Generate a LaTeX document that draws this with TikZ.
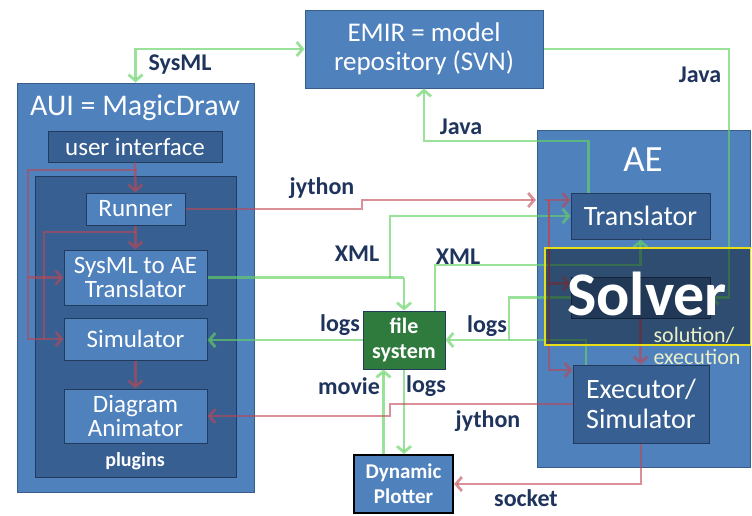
\documentclass[tikz,border=0pt]{standalone}
\usepackage{fontspec}
\setmainfont{Carlito}
\usetikzlibrary{arrows.meta}
\definecolor{midblue}{RGB}{79,129,189}
\definecolor{midedge}{RGB}{56,93,138}
\definecolor{darkblue}{RGB}{55,95,145}
\definecolor{darkedge}{RGB}{34,58,92}
\definecolor{fsgreen}{RGB}{47,122,61}
\definecolor{navy}{RGB}{31,52,92}
\definecolor{lgreen}{RGB}{100,210,100}
\definecolor{lred}{RGB}{192,70,82}
\definecolor{overlay}{RGB}{160,180,140}
\definecolor{soltext}{RGB}{235,240,200}
\begin{document}
\begin{tikzpicture}[x=1pt,y=-1pt,
    outerbox/.style={draw=midedge,line width=1pt,fill=midblue,inner sep=0pt},
    innerbox/.style={draw=darkedge,line width=1pt,fill=darkblue,text=white,inner sep=0pt,align=center,font=\fontsize{25}{24}\selectfont},
    plainbox/.style={draw=darkedge,line width=1pt,fill=midblue,text=white,inner sep=0pt,align=center,font=\fontsize{25}{24}\selectfont},
    aebox/.style={innerbox,font=\fontsize{28}{30}\selectfont},
    tag/.style={text=navy,font=\bfseries\fontsize{24}{26}\selectfont,inner sep=0pt},
    gline/.style={draw=lgreen,draw opacity=0.65,line width=2.8pt,arrows={-Straight Barb[length=6pt,width=14pt]}},
    rline/.style={draw=lred,draw opacity=0.6,line width=2.8pt,arrows={-Straight Barb[length=6pt,width=14pt]}},
  ]
\useasboundingbox (0,0) rectangle (752,515);

% EMIR
\node[outerbox,minimum width=238pt,minimum height=78pt,text=white,align=center,font=\fontsize{27}{29}\selectfont] (emir) at (424,49) {EMIR = model\\repository (SVN)};

% AUI
\node[outerbox,minimum width=237pt,minimum height=409pt] (aui) at (135.5,287.5) {};
\node[text=white,font=\fontsize{30}{32}\selectfont] (auititle) at (135,108) {AUI = MagicDraw};
\node[innerbox,minimum width=174pt,minimum height=31pt] (ui) at (135,146.5) {user interface};
\node[innerbox,minimum width=201pt,minimum height=301pt] (plugins) at (135.5,326.5) {};
\node[text=white,font=\bfseries\fontsize{20}{22}\selectfont] (pluginslabel) at (135,461) {plugins};
\node[plainbox,minimum width=99pt,minimum height=32pt] (runner) at (135.5,209) {Runner};
\node[plainbox,minimum width=143pt,minimum height=55pt] (sysae) at (135.5,277.5) {SysML to AE\\Translator};
\node[plainbox,minimum width=143pt,minimum height=42pt] (sim) at (135.5,339) {Simulator};
\node[plainbox,minimum width=143pt,minimum height=54pt] (anim) at (135.5,416) {Diagram\\Animator};

% AE
\node[outerbox,minimum width=213pt,minimum height=337pt] (ae) at (643.5,298.5) {};
\node[text=white,font=\fontsize{37}{39}\selectfont] (aetitle) at (643,160) {AE};
\node[aebox,minimum width=139pt,minimum height=46pt] (trans) at (640.5,216) {Translator};
\node[aebox,minimum width=139pt,minimum height=41pt] (solver) at (640.5,297.5) {};
\node[aebox,minimum width=136pt,minimum height=78pt] (exec) at (641,404) {Executor/\\Simulator};

% file system and plotter
\node[draw=darkedge,line width=1pt,fill=fsgreen,text=white,align=center,inner sep=0pt,minimum width=82pt,minimum height=58pt,font=\bfseries\fontsize{22}{25}\selectfont] (fs) at (404,340) {file\\system};
\node[draw=black,line width=2pt,fill=midblue,text=white,align=center,inner sep=0pt,minimum width=99pt,minimum height=58pt,font=\bfseries\fontsize{21}{25}\selectfont] (plot) at (403.5,484) {Dynamic\\Plotter};

% green connectors
\coordinate (jr) at (729,297.5);
\coordinate (jl) at (424,141);
\coordinate (xa) at (390,277.5);
\coordinate (xb) at (404,277.5);
\coordinate (xc) at (640.5,265);
\coordinate (lg) at (509,340);
\draw[gline,{Straight Barb[length=6pt,width=14pt]}-{Straight Barb[length=6pt,width=14pt]}] (emir.west) -| (aui.north);
\draw[gline] (emir.east) -| (jr) -- (solver.east);
\draw[gline] ([xshift=-52pt]trans.north) |- (jl) -- (emir.south);
\draw[gline,-] (sysae.east) -- (xb);
\draw[gline] (xa) |- (trans.west);
\draw[gline] (xb) -- (fs.north);
\draw[gline] ([xshift=31pt]fs.north) |- (xc) -- (trans.south);
\draw[gline] (solver.west) -| (lg) -- (fs.east);
\draw[gline,-] ([xshift=-55pt]exec.north) |- (lg);
\draw[gline] (fs.west) -- (sim.east |- fs.west);
\draw[gline] ([xshift=-20pt]plot.north) -- ([xshift=-20pt]plot.north |- fs.south);
\draw[gline] (fs.south) -- (fs.south |- plot.north);

% red connectors
\coordinate (r1) at (135.5,170);
\coordinate (r2) at (135.5,232);
\coordinate (ra) at (28,339);
\coordinate (rb) at (28,277.5);
\coordinate (rc) at (44,339);
\coordinate (j1) at (362,200);
\coordinate (aein) at (536,200);
\coordinate (j2) at (545,200);
\coordinate (j3) at (549,200);
\coordinate (k1) at (390,410);
\draw[rline] (ui.south) -- (runner.north);
\draw[rline] (r1) -| (ra) -- (sim.west);
\draw[rline] (rb) -- (sysae.west);
\draw[rline] (runner.south) -- (sysae.north);
\draw[rline,-] (r2) -| (rc);
\draw[rline] (sim.south) -- (anim.north);
\draw[rline] (runner.east) -| (j1) -- (aein);
\draw[rline] (j2) -- (trans.west |- j2);
\draw[rline] (j3) |- ([yshift=14pt]solver.west);
\draw[rline] (j3) |- ([yshift=34pt]exec.west);
\draw[rline] (solver.south) -- (solver.south |- exec.north);
\draw[rline] (exec.west) -| (k1) |- (anim.east);
\draw[rline] (exec.south) |- (plot.east);

% solver highlight
\fill[overlay,opacity=0.4] (545,248) rectangle (750.5,345);
\draw[yellow!90!black,line width=1.2pt] (545,248) rectangle (750.5,345);
\node[text=white,font=\bfseries\fontsize{62}{64}\selectfont,inner sep=0pt] (solvertext) at (647,294) {Solver};
\node[text=soltext,align=left,font=\fontsize{22}{22}\selectfont,inner sep=0pt] (soltag) at (697,346) {solution/\\execution};

% labels
\node[tag] (tsysml) at (180,65) {SysML};
\node[tag] (tjava1) at (700,75) {Java};
\node[tag] (tjava2) at (461,127) {Java};
\node[tag] (tjy1) at (322,188) {jython};
\node[tag] (txml1) at (357,254) {XML};
\node[tag] (txml2) at (458,257) {XML};
\node[tag] (tlogs1) at (340,325) {logs};
\node[tag] (tlogs2) at (487,326) {logs};
\node[tag] (tmovie) at (349,386) {movie};
\node[tag] (tlogs3) at (426,386) {logs};
\node[tag] (tjy2) at (488,421) {jython};
\node[tag] (tsocket) at (526,498) {socket};
\end{tikzpicture}
\end{document}
